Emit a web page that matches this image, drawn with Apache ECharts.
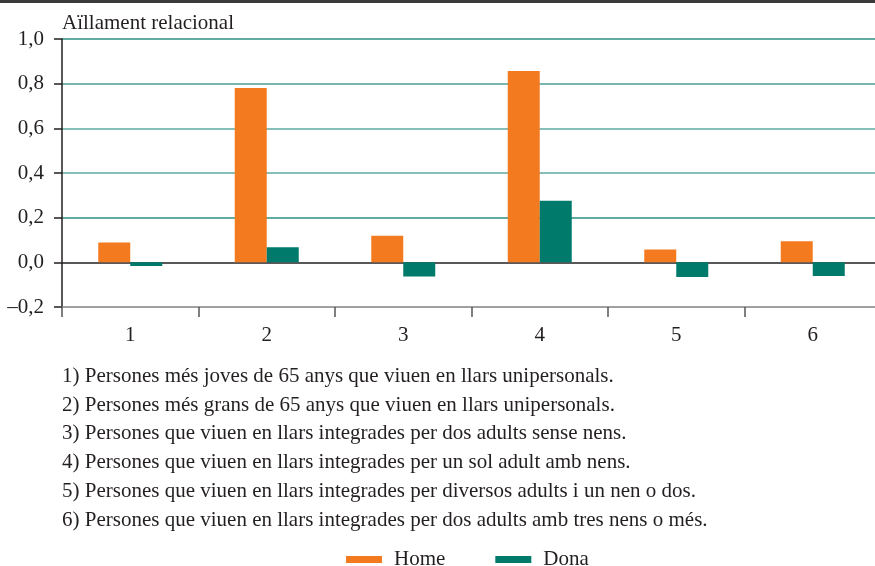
<!DOCTYPE html>
<html>
<head>
<meta charset="utf-8">
<script src="https://cdn.jsdelivr.net/npm/echarts@6/dist/echarts.min.js"></script>
<style>
  html, body { margin: 0; padding: 0; background: #fff; }
  #main { width: 875px; height: 566px; }
</style>
</head>
<body>
<div id="main"></div>
<script>
// ===================== data =====================
const categories = ['1', '2', '3', '4', '5', '6']
const home = [0.089, 0.781, 0.119, 0.857, 0.058, 0.094]
const dona = [-0.016, 0.067, -0.063, 0.276, -0.066, -0.061]
const yTicks = ['–0,2', '0,0', '0,2', '0,4', '0,6', '0,8', '1,0']
const notes = [
  '1) Persones més joves de 65 anys que viuen en llars unipersonals.',
  '2) Persones més grans de 65 anys que viuen en llars unipersonals.',
  '3) Persones que viuen en llars integrades per dos adults sense nens.',
  '4) Persones que viuen en llars integrades per un sol adult amb nens.',
  '5) Persones que viuen en llars integrades per diversos adults i un nen o dos.',
  '6) Persones que viuen en llars integrades per dos adults amb tres nens o més.',
]

const serif = '"Liberation Serif", "Times New Roman", serif'
const textColor = '#231f20'

// ===================== init =====================
const myChart = echarts.init(document.getElementById('main'))

const noteTexts = notes.map((t, i) => ({
  type: 'text',
  left: 62,
  top: 366 + i * 28.7,
  style: { text: t, fill: textColor, font: '21px ' + serif },
}))

const option = {
  animation: false,
  textStyle: { fontFamily: serif },
  title: {
    text: 'Aïllament relacional',
    left: 57,
    top: 8,
    textStyle: { fontFamily: serif, fontSize: 21, fontWeight: 'normal', color: textColor },
  },
  graphic: [
    {
      type: 'rect',
      left: 0,
      top: 0,
      shape: { width: 875, height: 3 },
      style: { fill: '#3a3a3a' },
    },
    ...noteTexts,
  ],
  legend: {
    top: 544,
    left: 341,
    itemWidth: 36,
    itemHeight: 7,
    itemGap: 50,
    icon: 'rect',
    textStyle: { fontFamily: serif, fontSize: 21, color: textColor, padding: [0, 0, 0, 7] },
    data: ['Home', 'Dona'],
  },
  grid: {
    left: 62,
    width: 819,
    top: 39,
    height: 268,
    containLabel: false,
    outerBoundsMode: 'none',
  },
  xAxis: {
    type: 'category',
    data: categories,
    axisLine: { onZero: false, lineStyle: { color: '#9a9a9a', width: 1.5 } },
    axisTick: { show: true, length: 10, lineStyle: { color: '#555', width: 1.5 } },
    axisLabel: { fontFamily: serif, fontSize: 21, color: textColor, margin: 18 },
  },
  yAxis: {
    type: 'value',
    min: -0.2,
    max: 1.0,
    interval: 0.2,
    axisLine: { show: true, lineStyle: { color: '#231f20', width: 1.5 } },
    axisTick: { show: true, length: 8, lineStyle: { color: '#231f20', width: 1.5 } },
    axisLabel: {
      fontFamily: serif,
      fontSize: 21,
      color: textColor,
      margin: 18,
      formatter: (v) => yTicks[Math.round((v + 0.2) / 0.2)],
    },
    splitLine: {
      show: true,
      lineStyle: {
        color: ['#9a9a9a', '#231f20', '#2e8f84', '#5fa8a0', '#5fa8a0', '#4c9d94', '#2e8f84'],
        width: 1.5,
      },
    },
  },
  series: [
    {
      name: 'Home',
      type: 'bar',
      data: home,
      barWidth: 32,
      barGap: '0%',
      itemStyle: { color: '#f47a20' },
    },
    {
      name: 'Dona',
      type: 'bar',
      data: dona,
      barWidth: 32,
      barGap: '0%',
      itemStyle: { color: '#007a6b' },
    },
  ],
}
myChart.setOption(option)
</script>
</body>
</html>
